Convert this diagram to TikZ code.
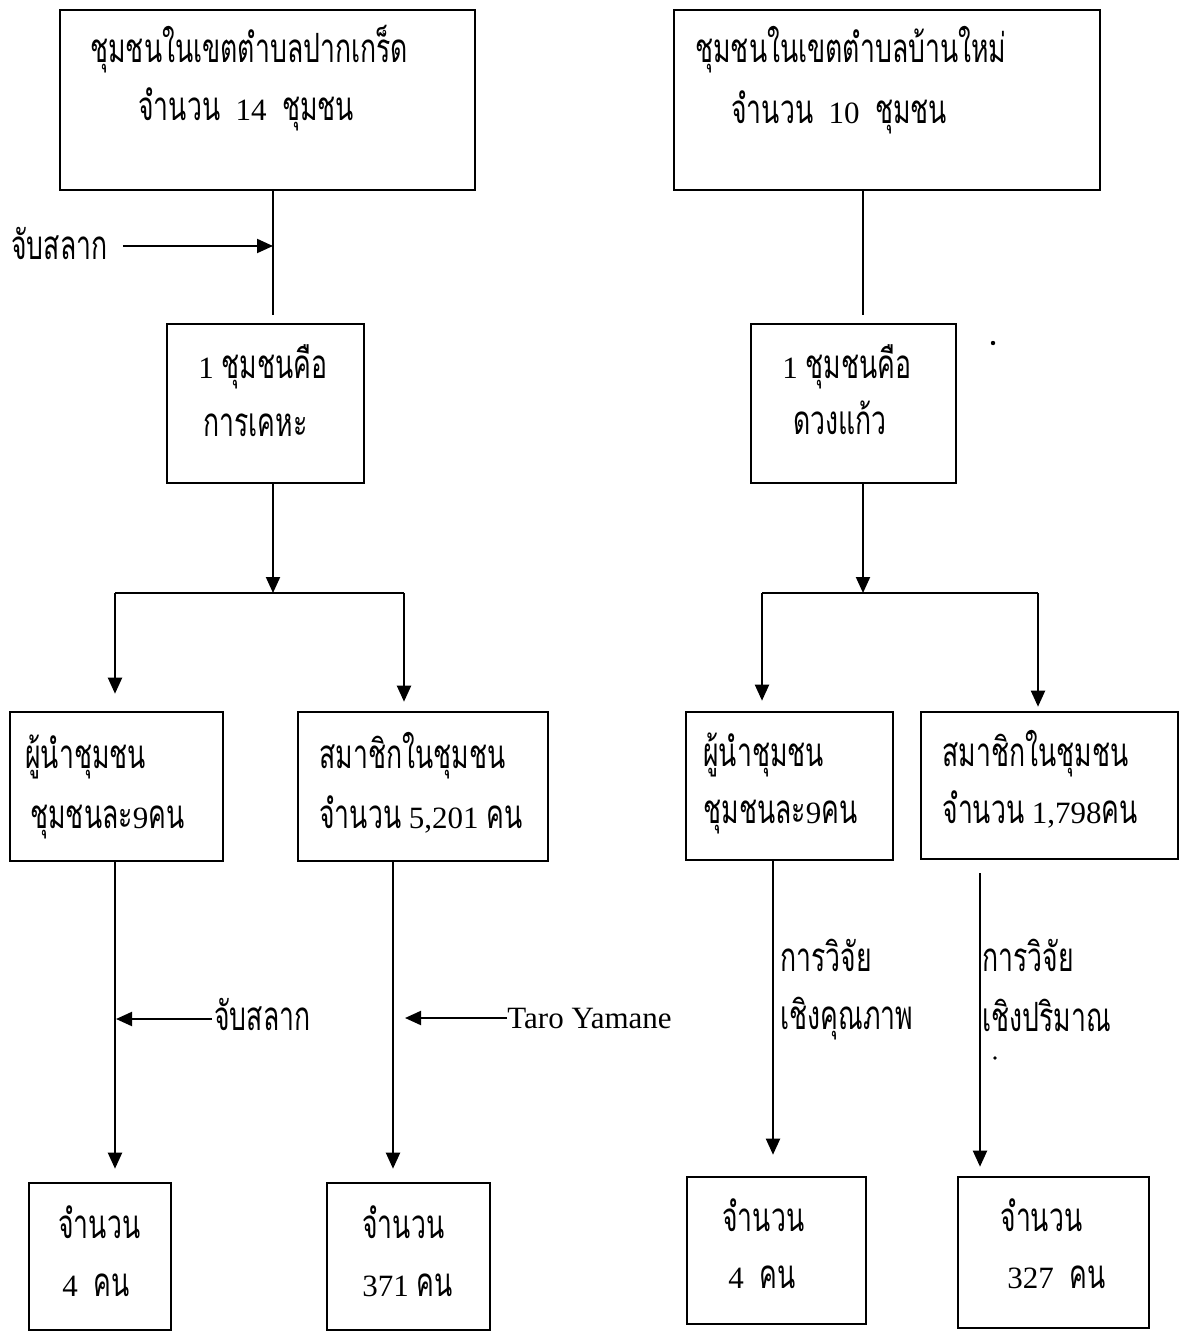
\documentclass[tikz,border=0pt]{standalone}
\usepackage{fontspec}
\setmainfont{Liberation Serif}
\newfontfamily\thaifont[Script=Thai,Scale=1.3,FakeStretch=0.66]{Loma}
\newcommand{\thai}[1]{{\thaifont #1}}
\usetikzlibrary{positioning, arrows.meta, fit, calc}

\tikzset{
    box/.style={draw, line width=1.3pt, inner sep=0pt},
    txt/.style={anchor=base west, inner sep=0pt, font=\fontsize{15.5}{18}\selectfont},
    line/.style={line width=1pt},
    arr/.style={line width=1pt, -{Triangle[length=8pt, width=7pt]}},
}

\begin{document}
\begin{tikzpicture}[x=0.5pt, y=-0.5pt]
        \useasboundingbox (0,0) rectangle (1179,1332);

        % boxes, left side
        \node[box, fit={(60,10) (475,190)}] (a) {};
        \node[box, fit={(167,324) (364,483)}] (c) {};
        \node[box, fit={(10,712) (223,861)}] (e) {};
        \node[box, fit={(298,712) (548,861)}] (f) {};
        \node[box, fit={(29,1183) (171,1330)}] (i) {};
        \node[box, fit={(327,1183) (490,1330)}] (j) {};

        % boxes, right side
        \node[box, fit={(674,10) (1100,190)}] (b) {};
        \node[box, fit={(751,324) (956,483)}] (d) {};
        \node[box, fit={(686,712) (893,860)}] (g) {};
        \node[box, fit={(921,712) (1178,859)}] (h) {};
        \node[box, fit={(687,1177) (866,1324)}] (k) {};
        \node[box, fit={(958,1177) (1149,1328)}] (l) {};

        % texts in boxes
        \node[txt] (aT1) at (90,63) {\thai{ชุมชนในเขตตำบลปากเกร็ด}};
        \node[txt] (aT2) at (138,121) {\thai{จำนวน}\ \ 14\ \ \thai{ชุมชน}};
        \node[txt] (bT1) at (695,63) {\thai{ชุมชนในเขตตำบลบ้านใหม่}};
        \node[txt] (bT2) at (731,124) {\thai{จำนวน}\ \ 10\ \ \thai{ชุมชน}};
        \node[txt] (cT1) at (198,378) {1 \thai{ชุมชนคือ}};
        \node[txt] (cT2) at (203,436) {\thai{การเคหะ}};
        \node[txt] (dT1) at (782,378) {1 \thai{ชุมชนคือ}};
        \node[txt] (dT2) at (793,434) {\thai{ดวงแก้ว}};
        \node[txt] (eT1) at (25,768) {\thai{ผู้นำชุมชน}};
        \node[txt] (eT2) at (30,828) {\thai{ชุมชนละ}9\thai{คน}};
        \node[txt] (fT1) at (319,768) {\thai{สมาชิกในชุมชน}};
        \node[txt] (fT2) at (319,828) {\thai{จำนวน} 5,201 \thai{คน}};
        \node[txt] (gT1) at (703,766) {\thai{ผู้นำชุมชน}};
        \node[txt] (gT2) at (703,823) {\thai{ชุมชนละ}9\thai{คน}};
        \node[txt] (hT1) at (942,766) {\thai{สมาชิกในชุมชน}};
        \node[txt] (hT2) at (942,823) {\thai{จำนวน} 1,798\thai{คน}};
        \node[txt] (iT1) at (58,1238) {\thai{จำนวน}};
        \node[txt] (iT2) at (62,1296) {4\ \ \thai{คน}};
        \node[txt] (jT1) at (362,1238) {\thai{จำนวน}};
        \node[txt] (jT2) at (362,1296) {371 \thai{คน}};
        \node[txt] (kT1) at (722,1231) {\thai{จำนวน}};
        \node[txt] (kT2) at (728,1288) {4\ \ \thai{คน}};
        \node[txt] (lT1) at (1000,1231) {\thai{จำนวน}};
        \node[txt] (lT2) at (1007,1288) {327\ \ \thai{คน}};

        % labels beside the lines
        \node[txt] (lotA) at (11,259) {\thai{จับสลาก}};
        \node[txt] (lotB) at (214,1030) {\thai{จับสลาก}};
        \node[txt] (taro) at (507,1028) {Taro Yamane};
        \node[txt] (qualA) at (780,971) {\thai{การวิจัย}};
        \node[txt] (qualB) at (780,1029) {\thai{เชิงคุณภาพ}};
        \node[txt] (quanA) at (982,971) {\thai{การวิจัย}};
        \node[txt] (quanB) at (982,1031) {\thai{เชิงปริมาณ}};

        % left connectors
        \coordinate (a1) at (273,246);
        \coordinate (cl) at (115,593);
        \coordinate (cr) at (404,593);
        \coordinate (e1) at (115,1019);
        \coordinate (f1) at (393,1018);
        \draw[line, shorten >=4pt] (a.south -| a1) -- (c.north -| a1);
        \draw[arr] ($(lotA.east |- a1)+(15,0)$) -- (a1);
        \draw[arr] (c.south -| a1) -- (a1 |- cl);
        \draw[line] (cl) -- (cr);
        \draw[arr, shorten >=8.5pt] (cl) -- (e.north -| cl);
        \draw[arr, shorten >=4.5pt] (cr) -- (f.north -| cr);
        \draw[arr, shorten >=6.5pt] (e.south -| e1) -- (i.north -| e1);
        \draw[arr, shorten >=6.5pt] (f.south -| f1) -- (j.north -| f1);
        \draw[arr] ($(lotB.west |- e1)+(-2,0)$) -- ($(e1)+(1,0)$);
        \draw[arr] (taro.west |- f1) -- ($(f1)+(12,0)$);

        % right connectors
        \coordinate (b1) at (863,316);
        \coordinate (dl) at (762,593);
        \coordinate (dr) at (1038,593);
        \coordinate (g1) at (773,1000);
        \coordinate (h1) at (980,1000);
        \draw[line, shorten >=4pt] (b.south -| b1) -- (d.north -| b1);
        \draw[arr] (d.south -| b1) -- (b1 |- dl);
        \draw[line] (dl) -- (dr);
        \draw[arr, shorten >=5pt] (dl) -- (g.north -| dl);
        \draw[arr, shorten >=2pt] (dr) -- (h.north -| dr);
        \draw[arr, shorten >=10.5pt] (g.south -| g1) -- (k.north -| g1);
        \draw[arr, shorten <=6.5pt, shorten >=4.5pt] (h.south -| h1) -- (l.north -| h1);

        % stray dots
        \fill (993,343) circle (1.1pt);
        \fill (995,1058) circle (0.9pt);
    \end{tikzpicture}
\end{document}
